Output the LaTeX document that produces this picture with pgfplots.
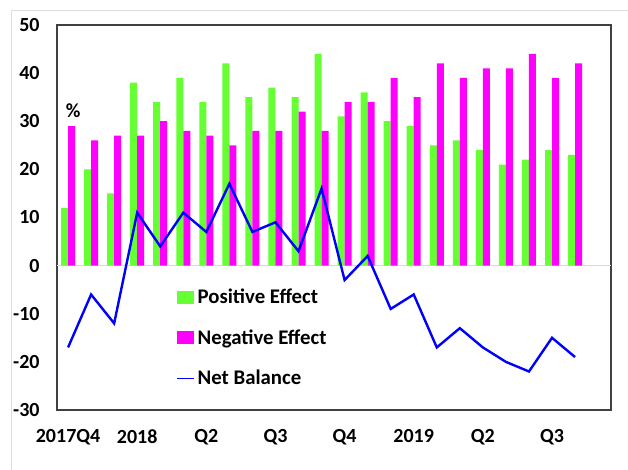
\documentclass[border=0pt]{standalone}
\usepackage{fontspec}
\setmainfont{Carlito}
\usepackage{pgfplots}
\pgfplotsset{compat=1.18}
\usepackage{pgfplotstable}
\definecolor{posgreen}{RGB}{102,255,51}
\definecolor{negmag}{RGB}{255,0,255}
\definecolor{netblue}{RGB}{0,0,255}
\pgfplotstableread{
x pos neg net
0 12 29 -17
1 20 26 -6
2 15 27 -12
3 38 27 11
4 34 30 4
5 39 28 11
6 34 27 7
7 42 25 17
8 35 28 7
9 37 28 9
10 35 32 3
11 44 28 16
12 31 34 -3
13 36 34 2
14 30 39 -9
15 29 35 -6
16 25 42 -17
17 26 39 -13
18 24 41 -17
19 21 41 -20
20 22 44 -22
21 24 39 -15
22 23 42 -19
}\datatable
\begin{document}
\begin{tikzpicture}
\useasboundingbox (0,0) rectangle (471pt,352.5pt);
\draw[black!13, line width=0.75pt] (8.25pt,0pt) -- (8.25pt,344.25pt) -- (471pt,344.25pt);
\begin{axis}[
  at={(42.75pt,45pt)}, anchor=south west,
  width=415.5pt, height=288.75pt, scale only axis,
  ybar=0pt, bar width=5.25pt,
  xmin=-0.48, xmax=23.56,
  ymin=-30, ymax=50,
  ytick={-30,-20,...,50},
  xtick={0,3,6,9,12,15,18,21},
  xticklabels={2017Q4,2018,Q2,Q3,Q4,2019,Q2,Q3},
  major tick length=0pt,
  axis line style={black!75, line width=0.9pt},
  /pgf/number format/assume math mode=true,
  ticklabel style={font=\fontsize{15}{18}\selectfont\bfseries},
  yticklabel style={xshift=-9.5pt},
  xticklabel style={yshift=-11pt},
  extra y ticks={0},
  extra y tick labels={},
  extra y tick style={grid=major, major grid style={black!15, line width=1pt}},
  legend style={at={(0.215,0.322)}, anchor=north west, draw=none, fill=none,
    font=\fontsize{15.6}{18}\selectfont\bfseries, row sep=14pt,
    inner sep=0pt, cells={anchor=west}},
]
\addplot[fill=posgreen, draw=none,
  legend image code/.code={\fill[posgreen] (0pt,-4.9pt) rectangle (12.75pt,4.9pt);}]
  table[x=x, y=pos] {\datatable};
\addlegendentry{Positive Effect}
\addplot[fill=negmag, draw=none,
  legend image code/.code={\fill[negmag] (0pt,-4.9pt) rectangle (12.75pt,4.9pt);}]
  table[x=x, y=neg] {\datatable};
\addlegendentry{Negative Effect}
\addplot[sharp plot, netblue, line width=1.8pt, mark=none,
  legend image code/.code={\draw[netblue, line width=1.2pt] (0pt,0pt) -- (12.75pt,0pt);}]
  table[x=x, y=net] {\datatable};
\addlegendentry{Net Balance}
\node[font=\fontsize{15}{18}\selectfont\bfseries] at (axis cs:0.22,32.2) {\%};
\end{axis}
\end{tikzpicture}
\end{document}
